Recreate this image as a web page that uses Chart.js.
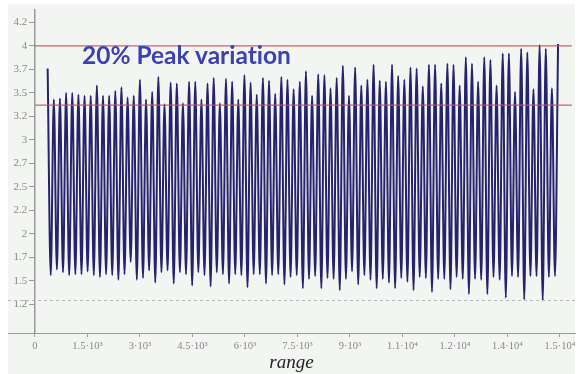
<!DOCTYPE html>
<html>
<head>
<meta charset="utf-8">
<script src="https://cdn.jsdelivr.net/npm/chart.js@4"></script>
<style>
  body { margin: 0; background: #ffffff; }
  #wrap { position: relative; width: 581px; height: 374px; }
  #note {
    position: absolute; left: 82px; top: 40px;
    font-family: Lato, sans-serif; font-weight: bold; font-size: 24.5px;
    font-variant-ligatures: none;
    color: #3d41b6; white-space: nowrap;
  }
</style>
</head>
<body>
<div id="wrap">
  <canvas id="chart" width="581" height="374"></canvas>
  <div id="note">20% Peak variation</div>
</div>
<script>
// peak / trough positions along the range axis
const peakX = [363, 539, 714, 890, 1066, 1242, 1417, 1593, 1769, 1944, 2120, 2296, 2471, 2647, 2823, 2999,
  3174, 3350, 3526, 3701, 3877, 4053, 4228, 4404, 4580, 4756, 4931, 5107, 5283, 5458, 5634, 5810, 5985,
  6161, 6337, 6513, 6688, 6864, 7040, 7215, 7391, 7567, 7742, 7918, 8094, 8270, 8445, 8621, 8797, 8972,
  9148, 9324, 9499, 9675, 9851, 10027, 10202, 10378, 10554, 10729, 10905, 11081, 11256, 11432, 11608,
  11784, 11959, 12135, 12311, 12486, 12662, 12838, 13013, 13189, 13365, 13541, 13716, 13892, 14068,
  14243, 14419, 14595, 14770, 14946]
const peakY = [3.76, 3.43, 3.44, 3.50, 3.50, 3.48, 3.47, 3.47, 3.58, 3.47, 3.47, 3.52, 3.56, 3.45, 3.47, 3.64,
  3.43, 3.51, 3.67, 3.38, 3.61, 3.60, 3.39, 3.62, 3.62, 3.43, 3.60, 3.66, 3.39, 3.65, 3.62, 3.43, 3.69,
  3.61, 3.48, 3.66, 3.63, 3.49, 3.67, 3.64, 3.54, 3.62,
  3.73, 3.47, 3.70, 3.69, 3.55, 3.66, 3.79, 3.47, 3.77, 3.58, 3.64, 3.80, 3.63, 3.62, 3.80, 3.68, 3.64,
  3.77, 3.76, 3.57, 3.80, 3.80, 3.60, 3.81, 3.80, 3.58, 3.88, 3.81, 3.62, 3.88, 3.85, 3.58, 3.92, 3.92,
  3.51, 3.97, 3.93, 3.54, 4.01, 3.97, 3.55, 4.02]
const troughX = [451, 627, 802, 978, 1154, 1330, 1505, 1681, 1857, 2032, 2208, 2384, 2559, 2735, 2911, 3087,
  3262, 3438, 3614, 3789, 3965, 4141, 4316, 4492, 4668, 4844, 5019, 5195, 5371, 5546, 5722, 5898, 6073,
  6249, 6425, 6601, 6776, 6952, 7128, 7303, 7479, 7655, 7830, 8006, 8182, 8358, 8533, 8709, 8885, 9060,
  9236, 9412, 9587, 9763, 9939, 10115, 10290, 10466, 10642, 10817, 10993, 11169, 11344, 11520, 11696,
  11872, 12047, 12223, 12399, 12574, 12750, 12926, 13101, 13277, 13453, 13629, 13804, 13980, 14156,
  14331, 14507, 14683, 14858]
const troughY = [1.56, 1.62, 1.59, 1.56, 1.57, 1.57, 1.60, 1.56, 1.54, 1.57, 1.56, 1.51, 1.57, 1.70, 1.51,
  1.53, 1.61, 1.48, 1.59, 1.61, 1.47, 1.59, 1.57, 1.45, 1.59, 1.56, 1.44, 1.59, 1.57, 1.47, 1.57, 1.56,
  1.43, 1.57, 1.57, 1.47, 1.56, 1.57, 1.46, 1.54, 1.56,
  1.42, 1.52, 1.55, 1.42, 1.53, 1.52, 1.40, 1.52, 1.60, 1.46, 1.56, 1.51, 1.42, 1.52, 1.48, 1.42, 1.53,
  1.49, 1.40, 1.54, 1.53, 1.38, 1.52, 1.52, 1.41, 1.54, 1.52, 1.36, 1.52, 1.51, 1.36, 1.54, 1.51, 1.32,
  1.55, 1.54, 1.30, 1.55, 1.55, 1.29, 1.54, 1.55]

const peakLine = 4.0
const variationLine = 3.37
const floorLine = 1.29

const xTicks = [0, 1500, 3000, 4500, 6000, 7500, 9000, 10500, 12000, 13500, 15000]
const xTickLabels = ['0', '1.5·10³', '3·10³', '4.5·10³', '6·10³', '7.5·10³', '9·10³', '1.1·10⁴', '1.2·10⁴', '1.4·10⁴', '1.5·10⁴']
const yTicks = [1.25, 1.5, 1.75, 2, 2.25, 2.5, 2.75, 3, 3.25, 3.5, 3.75, 4, 4.25]
const yTickLabels = ['1.2', '1.5', '1.7', '2', '2.2', '2.5', '2.7', '3', '3.2', '3.5', '3.7', '4', '4.2']

const X_MIN = -770, X_MAX = 15430

// zig-zag signal: peak, trough, peak, ...
const signal = []
peakX.forEach((x, i) => {
    signal.push({ x: x, y: peakY[i] })
    if (i < troughX.length) signal.push({ x: troughX[i], y: troughY[i] })
})

const background = {
    id: 'background',
    beforeDraw(chart) {
        const ctx = chart.ctx
        ctx.save()
        ctx.fillStyle = '#ffffff'
        ctx.fillRect(0, 0, chart.width, chart.height)
        ctx.fillStyle = '#f3f5f2'
        ctx.fillRect(8, 4, 567, 370)
        ctx.restore()
    }
}

new Chart(document.getElementById('chart'), {
    type: 'scatter',
    data: {
        datasets: [
            {
                data: [{ x: 0, y: peakLine }, { x: 15340, y: peakLine }],
                showLine: true, borderColor: 'rgba(205, 80, 80, 0.9)', borderWidth: 1.3, pointRadius: 0
            },
            {
                data: [{ x: 0, y: variationLine }, { x: 15340, y: variationLine }],
                showLine: true, borderColor: 'rgba(205, 80, 80, 0.9)', borderWidth: 1.3, pointRadius: 0
            },
            {
                data: [{ x: X_MIN, y: floorLine }, { x: X_MAX, y: floorLine }],
                showLine: true, borderColor: '#b8b8b8', borderWidth: 1, borderDash: [3, 3], pointRadius: 0
            },
            {
                data: signal,
                showLine: true,
                borderColor: '#24236c',
                borderWidth: 2,
                pointRadius: 0,
                cubicInterpolationMode: 'monotone'
            }
        ]
    },
    options: {
        responsive: false,
        animation: false,
        layout: { padding: { left: 8, right: 6, top: 7, bottom: 0 } },
        plugins: { legend: { display: false }, tooltip: { enabled: false } },
        scales: {
            x: {
                type: 'linear', min: X_MIN, max: X_MAX, position: 'bottom',
                afterBuildTicks: (s) => { s.ticks = xTicks.map((v) => ({ value: v })) },
                afterFit: (s) => { s.height = 41 },
                grid: { display: true, drawOnChartArea: false, tickLength: 4, color: '#a0a0a0' },
                border: { display: true, color: '#9a9a9a', width: 1 },
                ticks: {
                    autoSkip: false, maxRotation: 0, padding: 3, color: '#888',
                    font: { family: 'Liberation Serif', size: 10.5 },
                    callback: (v) => xTickLabels[xTicks.indexOf(v)]
                },
                title: {
                    display: true, text: 'range', color: '#222',
                    font: { family: 'Liberation Serif', style: 'italic', size: 19 },
                    padding: { top: 0, bottom: 0 }
                }
            },
            y: {
                type: 'linear', min: 0.944, max: 4.387, position: { x: 0 },
                afterBuildTicks: (s) => { s.ticks = yTicks.map((v) => ({ value: v })) },
                grid: { display: true, drawOnChartArea: false, tickLength: 5, color: '#999' },
                border: { display: true, color: '#9a9a9a', width: 1.5 },
                ticks: {
                    autoSkip: false, color: '#888',
                    font: { family: 'Liberation Serif', size: 11 },
                    // labels sit right-aligned on the axis; pad them off the line
                    callback: (v) => yTickLabels[yTicks.indexOf(v)] + '\u2002\u2009'
                }
            }
        }
    },
    plugins: [background]
})
</script>
</body>
</html>
